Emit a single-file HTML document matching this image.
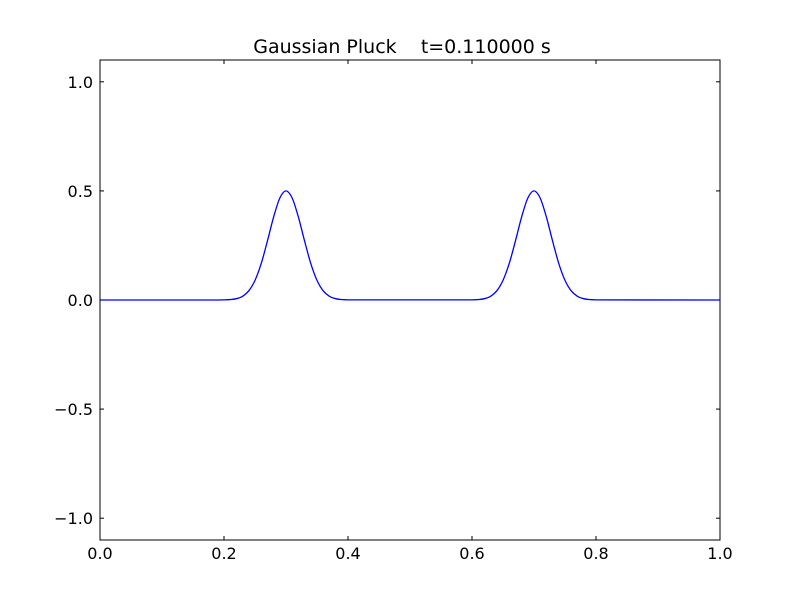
<!DOCTYPE html>
<html><head><meta charset="utf-8"><style>
body{margin:0;background:#fff;}
svg{display:block;font-family:"DejaVu Sans","Liberation Sans",sans-serif;}
</style></head><body>
<svg id="chart" width="800" height="600">
<rect width="800" height="600" fill="#fff"/>
<text x="402" y="53" font-size="19" text-anchor="middle" style="white-space:pre" xml:space="preserve">Gaussian Pluck    t=0.110000 s</text>
<g id="ticks"></g>
<path id="line" fill="none" stroke="#0000ff" stroke-width="1.3"/>
<rect x="100" y="60" width="620" height="480" fill="none" stroke="#000" stroke-width="1"/>
</svg>
<script>
const xTicks=[0,0.2,0.4,0.6,0.8,1.0];
const xTickLabels=["0.0","0.2","0.4","0.6","0.8","1.0"];
const yTicks=[-1,-0.5,0,0.5,1];
const yTickLabels=["\u22121.0","\u22120.5","0.0","0.5","1.0"];
const xData=[0,0.19,0.2,0.21,0.22,0.23,0.24,0.25,0.26,0.27,0.28,0.29,0.3,0.31,0.32,0.33,0.34,0.35,0.36,0.37,0.38,0.39,0.4,0.6,0.61,0.62,0.63,0.64,0.65,0.66,0.67,0.68,0.69,0.7,0.71,0.72,0.73,0.74,0.75,0.76,0.77,0.78,0.79,0.8,1.0];
const yData=[0,0,0.0005,0.002,0.006,0.017,0.042,0.09,0.167,0.27,0.38,0.467,0.5,0.467,0.38,0.27,0.167,0.09,0.042,0.017,0.006,0.002,0.0005,0.0005,0.002,0.006,0.017,0.042,0.09,0.167,0.27,0.38,0.467,0.5,0.467,0.38,0.27,0.167,0.09,0.042,0.017,0.006,0.002,0.0005,0];
const X=v=>100+v*620, Y=v=>300-v*218.18;
const NS="http://www.w3.org/2000/svg";
const g=document.getElementById('ticks');
function mk(t,a){const e=document.createElementNS(NS,t);for(const k in a)e.setAttribute(k,a[k]);return e;}
xTicks.forEach((v,i)=>{
  const x=X(v);
  const t1=mk('line',{x1:x,x2:x,y1:540,y2:536,stroke:'#000'});
  
  
  g.appendChild(t1);
  const t2=mk('line',{x1:x,x2:x,y1:60,y2:64,stroke:'#000'});
  
  
  g.appendChild(t2);
  const l=mk('text',{x:x,y:559,'font-size':16,'text-anchor':'middle'});
  l.textContent=xTickLabels[i];
  
  
  g.appendChild(l);
});
yTicks.forEach((v,i)=>{
  const y=Y(v);
  const t1=mk('line',{x1:100,x2:104,y1:y,y2:y,stroke:'#000'});
  
  
  g.appendChild(t1);
  const t2=mk('line',{x1:716,x2:720,y1:y,y2:y,stroke:'#000'});
  
  
  g.appendChild(t2);
  const l=mk('text',{x:93,y:y+6,'font-size':16,'text-anchor':'end'});
  l.textContent=yTickLabels[i];
  
  
  g.appendChild(l);
});
const P=xData.map((x,i)=>[X(x),Y(yData[i])]);
let d='M'+P[0][0]+','+P[0][1];
for(let i=0;i<P.length-1;i++){
  const p0=P[Math.max(i-1,0)],p1=P[i],p2=P[i+1],p3=P[Math.min(i+2,P.length-1)];
  const big=(p2[0]-p1[0])>20||(p1[0]-p0[0])>20||(p3[0]-p2[0])>20;
  if(big){d+='L'+p2[0]+','+p2[1];continue;}
  const c1=[p1[0]+(p2[0]-p0[0])/6,p1[1]+(p2[1]-p0[1])/6];
  const c2=[p2[0]-(p3[0]-p1[0])/6,p2[1]-(p3[1]-p1[1])/6];
  d+='C'+c1+' '+c2+' '+p2;
}
document.getElementById('line').setAttribute('d',d);
</script>
</body></html>
